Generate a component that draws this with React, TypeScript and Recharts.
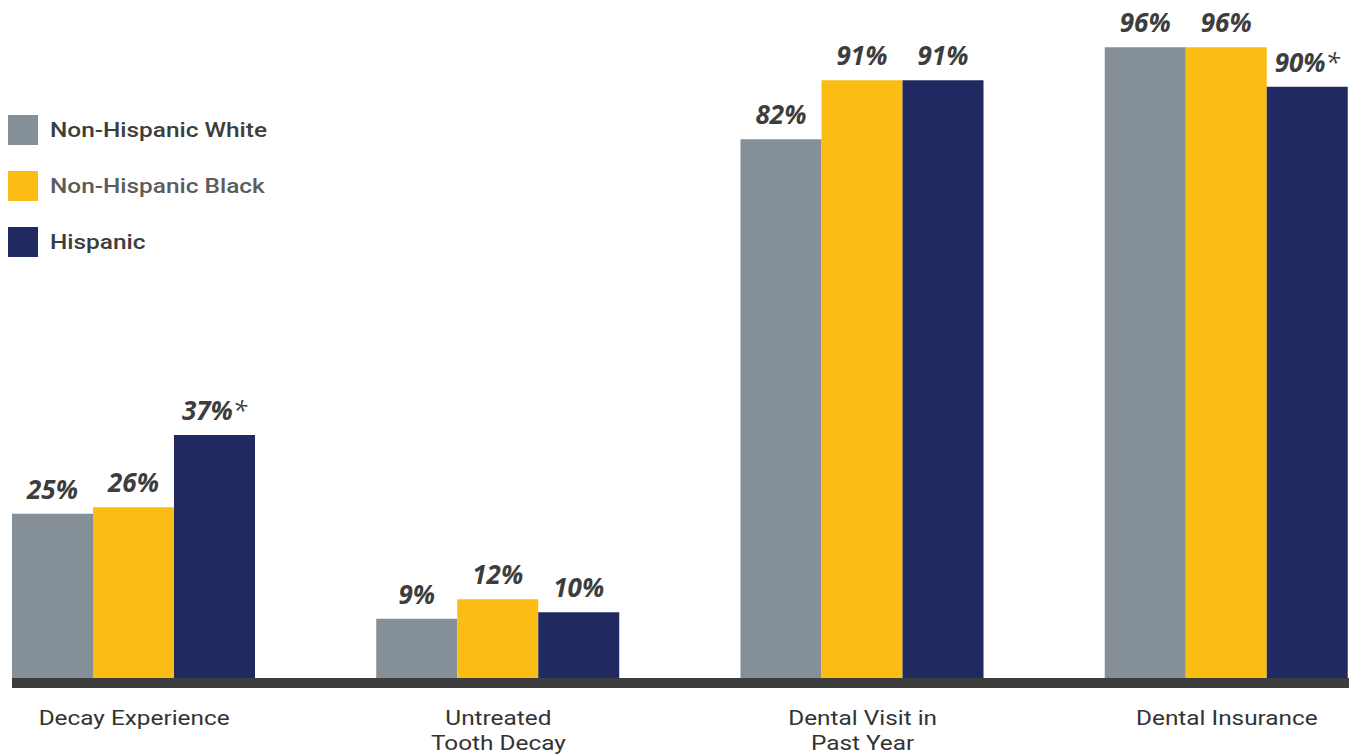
import { BarChart, Bar, XAxis, YAxis, LabelList } from "recharts";

const categories = ["Decay Experience", "Untreated\nTooth Decay", "Dental Visit in\nPast Year", "Dental Insurance"];
const whiteValues = [25, 9, 82, 96];
const blackValues = [26, 12, 91, 96];
const hispanicValues = [37, 10, 91, 90];
// starred = statistically different in the source
const hispanicStar = [true, false, false, true];

const series = [
    { key: "white", name: "Non-Hispanic White", color: "#848f97", text: "#3d3d3d" },
    { key: "black", name: "Non-Hispanic Black", color: "#fbbd14", text: "#5c5c5c" },
    { key: "hispanic", name: "Hispanic", color: "#212a60", text: "#3d3d3d" },
];

const data = categories.map((name, i) => ({
    name,
    white: whiteValues[i],
    black: blackValues[i],
    hispanic: hispanicValues[i],
    star: hispanicStar[i],
}));

// the source art is a little stretched sideways, so the text is too
const CategoryTick = (props: any) => {
    const { x, y, payload } = props;
    const lines = String(payload.value).split("\n");
    return (
        <g transform={`translate(${x},${y}) scale(1.16,1)`}>
            <text x={0} y={0} textAnchor="middle" fill="#333" fontSize={21} fontFamily="Roboto">
                {lines.map((line, i) => (
                    <tspan key={i} x={0} dy={i === 0 ? 39 : 25}>{line}</tspan>
                ))}
            </text>
        </g>
    );
};

const makeLabel = (withStar: boolean) => (props: any) => {
    const { x, y, width, value, index } = props;
    const star = withStar && data[index].star;
    return (
        <text
            x={x + width / 2}
            y={y - 15}
            textAnchor="middle"
            fill="#3d3d3d"
            fontSize={26}
            fontFamily="Open Sans"
            fontWeight={700}
            fontStyle="italic"
        >
            {value}%{star ? <tspan fontWeight={400}>*</tspan> : null}
        </text>
    );
};

const LegendBox = () => (
    <div style={{ position: "absolute", left: 8, top: 115, display: "flex", flexDirection: "column", gap: 26 }}>
        {series.map((s) => (
            <div key={s.key} style={{ display: "flex", alignItems: "center", height: 30 }}>
                <span style={{ width: 30, height: 30, background: s.color, display: "inline-block" }} />
                <span
                    style={{
                        marginLeft: 12,
                        fontFamily: "Roboto",
                        fontWeight: 500,
                        fontSize: 20.5,
                        color: s.text,
                        display: "inline-block",
                        transform: "scaleX(1.19)",
                        transformOrigin: "left center",
                        whiteSpace: "nowrap",
                    }}
                >
                    {s.name}
                </span>
            </div>
        ))}
    </div>
);

export default function App() {
    return (
        <div style={{ position: "relative", width: 1353, height: 755, background: "#fff" }}>
            <style>{"body{margin:0}"}</style>
            <BarChart
                width={1353}
                height={755}
                data={data}
                margin={{ top: 21, right: 4, bottom: 0, left: 12 }}
                barCategoryGap={60}
                barGap={0}
            >
                <XAxis
                    dataKey="name"
                    padding={{ left: -60, right: -60 }}
                    axisLine={{ stroke: "#3d3d3d", strokeWidth: 10, transform: "translate(0,5)" }}
                    tickLine={false}
                    interval={0}
                    height={77}
                    tick={<CategoryTick />}
                />
                <YAxis hide domain={[0, 100]} />
                {series.map((s) => (
                    <Bar key={s.key} dataKey={s.key} name={s.name} fill={s.color} isAnimationActive={false}>
                        <LabelList dataKey={s.key} content={makeLabel(s.key === "hispanic")} />
                    </Bar>
                ))}
            </BarChart>
            <LegendBox />
        </div>
    );
}
